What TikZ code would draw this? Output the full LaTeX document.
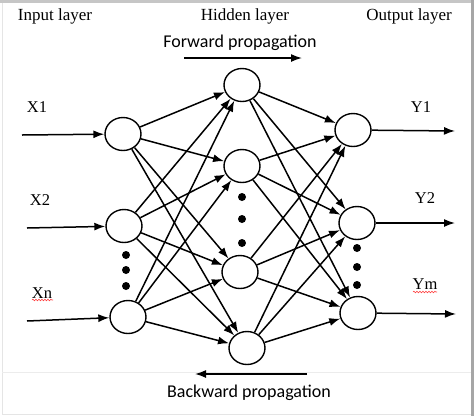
\documentclass[tikz,border=0pt]{standalone}
\usepackage{fontspec}
\setmainfont{Liberation Serif}
\newfontfamily\calibri{Carlito}
\usetikzlibrary{shapes.geometric,arrows.meta,decorations.pathmorphing}

\begin{document}
\begin{tikzpicture}[x=1pt,y=-1pt]
\tikzstyle{neuron}=[
  ellipse,
  draw,
  line width=1.4pt,
  minimum width=36pt,
  minimum height=33pt,
  inner sep=0pt ]
\tikzstyle{link}=[line width=1.5pt, -{Latex[length=11pt,width=8pt]}]
\tikzstyle{layername}=[font=\fontsize{17}{19}\selectfont, inner sep=0pt]
\tikzstyle{varname}=[font=\fontsize{16.5}{18}\selectfont, inner sep=0pt]
\tikzstyle{propname}=[font=\calibri\fontsize{18}{20}\selectfont, inner sep=0pt]
\tikzstyle{dot}=[circle, fill, minimum size=8pt, inner sep=0pt]
\tikzstyle{typo}=[red!75, line width=0.6pt, decorate,
  decoration={snake, amplitude=0.8pt, segment length=3pt}]
% frame
\useasboundingbox (0,0) rectangle (474,416);
\fill[gray!45] (0,0) rectangle (474,3);
\fill[gray!70] (471,0) rectangle (474,416);
\draw[gray!20, line width=0.8pt] (2,3) -- (2,414) -- (471,414);
\draw[gray!15, line width=0.8pt] (2,372) -- (471,372);
% titles
\node[layername] (inputtitle) at (55,16) {Input layer};
\node[layername] (hiddentitle) at (245,16) {Hidden layer};
\node[layername] (outputtitle) at (409,16) {Output layer};
\node[propname] (fwdtext) at (240,43) {Forward propagation};
\node[propname] (bwdtext) at (249,393) {Backward propagation};
\coordinate (fwdstart) at (184,58);
\coordinate (fwdend) at (302,58);
\coordinate (bwdstart) at (307,374);
\coordinate (bwdend) at (195,374);
\draw[link] (fwdstart) -- (fwdend);
\draw[link] (bwdstart) -- (bwdend);
% neurons
\node[neuron] (in1) at (123,134) {};
\node[neuron] (in2) at (124,226) {};
\node[neuron] (in3) at (128,317) {};
\node[neuron] (h1) at (242,85) {};
\node[neuron] (h2) at (242,166) {};
\node[neuron] (h3) at (240,272) {};
\node[neuron] (h4) at (247,348) {};
\node[neuron] (o1) at (353,130) {};
\node[neuron] (o2) at (357,223) {};
\node[neuron] (o3) at (358,313) {};
\foreach \y [count=\k] in {255,270,286}
  \node[dot] (indot\k) at (126,\y) {};
\foreach \y [count=\k] in {197,219,243}
  \node[dot] (hiddot\k) at (242,\y) {};
\foreach \y [count=\k] in {248,267,285}
  \node[dot] (outdot\k) at (357,\y) {};
% weights
\foreach \i in {in1,in2,in3}
  \foreach \h in {h1,h2,h3,h4}
    \draw[link] (\i) -- (\h);
\foreach \h in {h1,h2,h3,h4}
  \foreach \o in {o1,o2,o3}
    \draw[link] (\h) -- (\o);
% inputs and outputs
\node[varname] (x1) at (37,107) {X1};
\node[varname] (x2) at (40,200) {X2};
\node[varname] (xn) at (42,293) {Xn};
\node[varname] (y1) at (421,107) {Y1};
\node[varname] (y2) at (425,198) {Y2};
\node[varname] (ym) at (425,284) {Ym};
\draw[typo] (32,300) -- (53,300);
\draw[typo] (413,292) -- (437,292);
\coordinate (x1tail) at (22,135);
\coordinate (x2tail) at (27,228);
\coordinate (xntail) at (27,321);
\coordinate (y1head) at (455,131);
\coordinate (y2head) at (455,223);
\coordinate (ymhead) at (456,314);
\draw[link] (x1tail) -- (in1);
\draw[link] (x2tail) -- (in2);
\draw[link] (xntail) -- (in3);
\draw[link] (o1) -- (y1head);
\draw[link] (o2) -- (y2head);
\draw[link] (o3) -- (ymhead);
\end{tikzpicture}
\end{document}
